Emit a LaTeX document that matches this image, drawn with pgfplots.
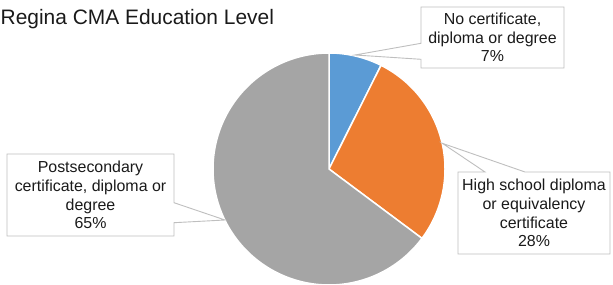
\documentclass[border=0pt]{standalone}
\usepackage{pgfplots}
\pgfplotsset{compat=1.18}
\usepackage{fontspec}
\setmainfont{Liberation Sans}
\definecolor{cBlue}{HTML}{5B9BD5}
\definecolor{cOrange}{HTML}{ED7D31}
\definecolor{cGray}{HTML}{A5A5A5}
\definecolor{cBox}{HTML}{BFBFBF}
\definecolor{cText}{HTML}{1A1A1A}
% shares (percent)
\pgfmathsetmacro{\vA}{7.4}
\pgfmathsetmacro{\vB}{27.8}
\pgfmathsetmacro{\vC}{64.8}
\pgfmathsetmacro{\aA}{90-\vA*3.6}
\pgfmathsetmacro{\aB}{\aA-\vB*3.6}
\pgfmathsetmacro{\aC}{\aB-\vC*3.6}
\begin{document}
\begin{tikzpicture}
\begin{axis}[
  scale only axis, width=613bp, height=285bp,
  xmin=0, xmax=613, ymin=0, ymax=285,
  hide axis, clip=false,
]
\addplot[fill=cBlue, draw=white, line width=1.5bp, domain=\aA:90, samples=40, variable=\t]
  ({329+116*cos(t)},{116+116*sin(t)}) -- (axis cs:329,116) -- cycle;
\addplot[fill=cOrange, draw=white, line width=1.5bp, domain=\aB:\aA, samples=80, variable=\t]
  ({329+116*cos(t)},{116+116*sin(t)}) -- (axis cs:329,116) -- cycle;
\addplot[fill=cGray, draw=white, line width=1.5bp, domain=\aC:\aB, samples=160, variable=\t]
  ({329+116*cos(t)},{116+116*sin(t)}) -- (axis cs:329,116) -- cycle;

% callouts
\draw[cBox, line width=0.9bp, fill=white]
  (axis cs:421,278) -- (axis cs:564,278) -- (axis cs:564,217) -- (axis cs:421,217)
  -- (axis cs:421,225.7) -- (axis cs:355,230) -- (axis cs:421,241.7) -- cycle;
\draw[cBox, line width=0.9bp, fill=white]
  (axis cs:7,131) -- (axis cs:174,131) -- (axis cs:174,82.3) -- (axis cs:225,65)
  -- (axis cs:174,62.3) -- (axis cs:174,49) -- (axis cs:7,49) -- cycle;
\draw[cBox, line width=0.9bp, fill=white]
  (axis cs:458,113) -- (axis cs:485,113) -- (axis cs:442.3,141.7) -- (axis cs:525,113)
  -- (axis cs:610,113) -- (axis cs:610,31) -- (axis cs:458,31) -- cycle;

\node[align=center, inner sep=0pt, text=cText, font=\fontsize{16}{18.8}\selectfont]
  at (axis cs:492.5,247.5) {No certificate,\\diploma or degree\\7\%};
\node[align=center, inner sep=0pt, text=cText, font=\fontsize{16}{18.8}\selectfont]
  at (axis cs:90.5,90) {Postsecondary\\certificate, diploma or\\degree\\65\%};
\node[align=center, inner sep=0pt, text=cText, font=\fontsize{16}{18.8}\selectfont]
  at (axis cs:534,72) {High school diploma\\or equivalency\\certificate\\28\%};

\node[anchor=base west, inner sep=0pt, text=cText, font=\fontsize{21}{25}\selectfont]
  at (axis cs:0.5,260) {Regina CMA Education Level};
\end{axis}
\pgfresetboundingbox
\useasboundingbox (0,0) rectangle (613bp,285bp);
\end{tikzpicture}
\end{document}
